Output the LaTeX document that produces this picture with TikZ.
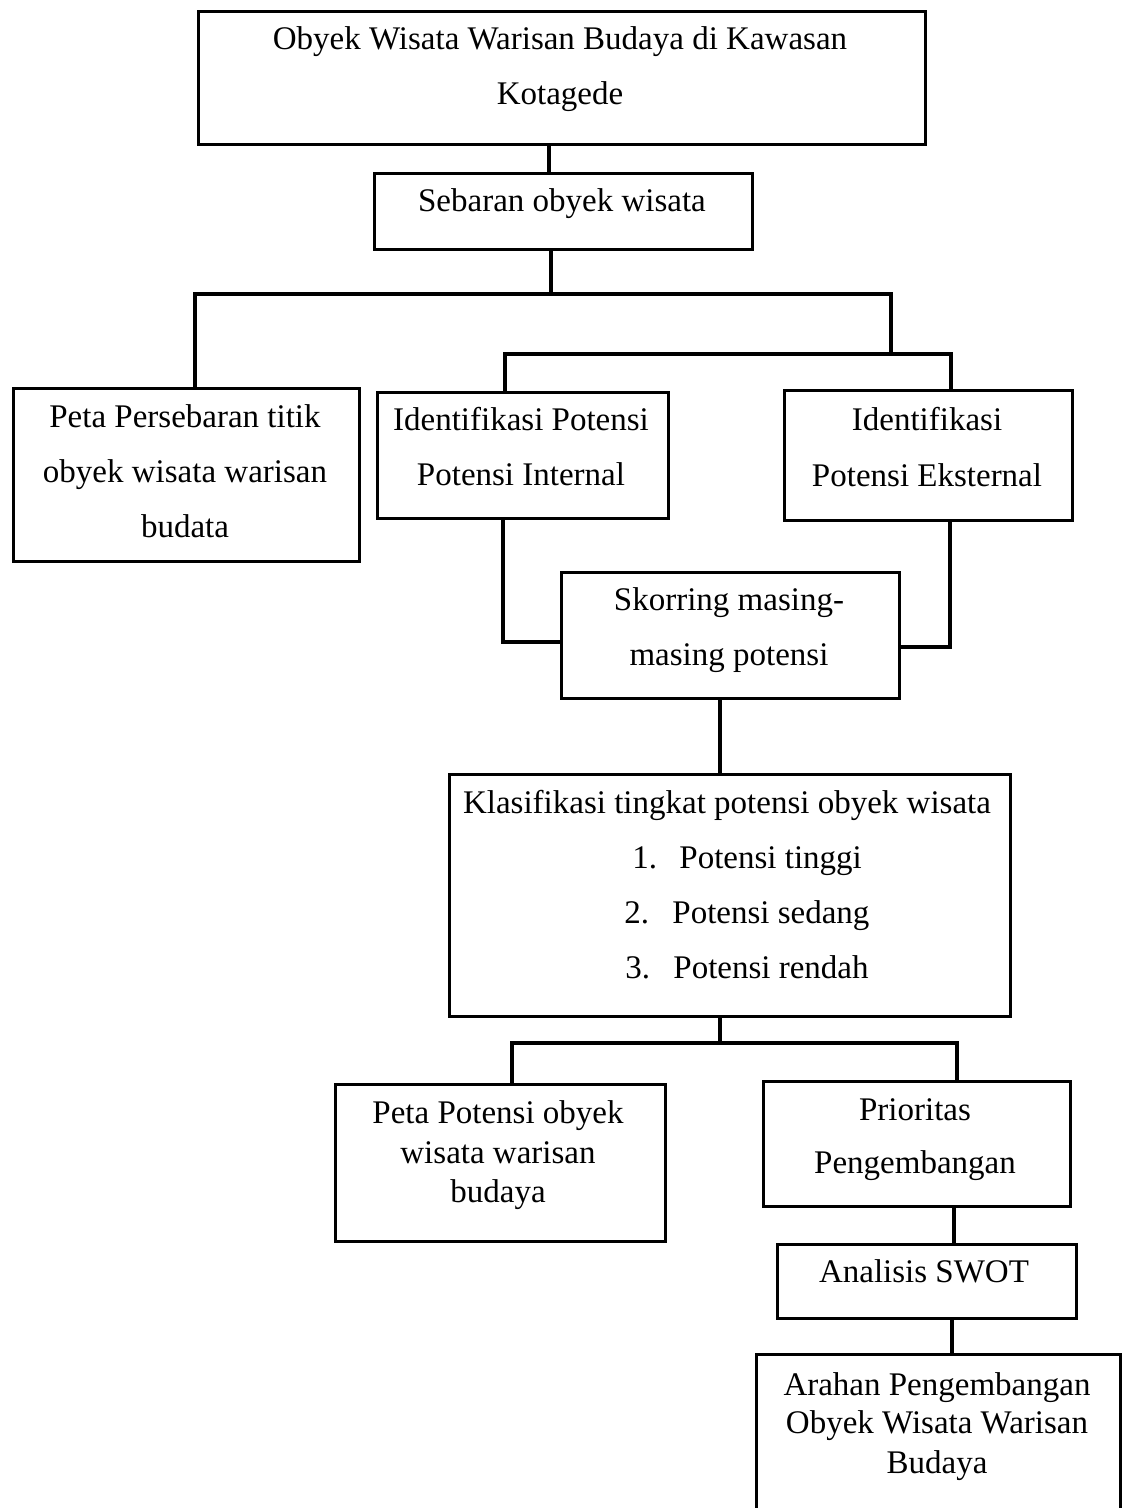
\documentclass[tikz,border=0pt]{standalone}
\usepackage{fontspec}
\setmainfont{Liberation Serif}
\newcommand\flowbox[5]{\node[box, minimum width={(#4-#2)*0.5pt}, minimum height={(#5-#3)*0.5pt}] (#1) at (#2,#3) {};}
\newcommand\boxline[4]{\node[lbl] (#1) at (#2,#3) {#4};}
\newcommand\boxlinew[4]{\node[lblw] (#1) at (#2,#3) {#4};}
\begin{document}
\begin{tikzpicture}[x=0.5pt, y=-0.5pt,
  box/.style={draw, line width=1.6pt, inner sep=0pt, anchor=north west},
  conn/.style={line width=1.8pt, line join=miter},
  bar/.style={line width=2.2pt, line join=miter},
  lbl/.style={anchor=base, inner sep=0pt, font=\fontsize{16.5}{20}\selectfont},
  lblw/.style={anchor=base west, inner sep=0pt, font=\fontsize{16.5}{20}\selectfont}]
\useasboundingbox (0,0) rectangle (1125,1508);
\clip (0,0) rectangle (1125,1508);
% boxes
\flowbox{A}{197}{10}{924}{143}
\flowbox{B}{373}{172}{751}{248}
\flowbox{C}{12}{387}{358}{560}
\flowbox{D}{376}{391}{667}{517}
\flowbox{E}{783}{389}{1071}{519}
\flowbox{F}{560}{571}{898}{697}
\flowbox{G}{448}{773}{1009}{1015}
\flowbox{H}{334}{1083}{664}{1240}
\flowbox{I}{762}{1080}{1069}{1205}
\flowbox{J}{776}{1243}{1075}{1317}
\flowbox{K}{755}{1353}{1119}{1540}
% texts
\boxline{A1}{560}{50}{Obyek Wisata Warisan Budaya di Kawasan}
\boxline{A2}{560}{105}{Kotagede}
\boxline{B1}{562}{212}{Sebaran obyek wisata}
\boxline{C1}{185}{427}{Peta Persebaran titik}
\boxline{C2}{185}{482}{obyek wisata warisan}
\boxline{C3}{185}{537}{budata}
\boxline{D1}{521}{430}{Identifikasi Potensi}
\boxline{D2}{521}{485}{Potensi Internal}
\boxline{E1}{927}{430}{Identifikasi}
\boxline{E2}{927}{486}{Potensi Eksternal}
\boxline{F1}{729}{610}{Skorring masing-}
\boxline{F2}{729}{665}{masing potensi}
\boxline{G1}{727}{813}{Klasifikasi tingkat potensi obyek wisata}
\boxlinew{G2n}{632}{868}{1.}
\boxlinew{G2}{679}{868}{Potensi tinggi}
\boxlinew{G3n}{624}{923}{2.}
\boxlinew{G3}{672}{923}{Potensi sedang}
\boxlinew{G4n}{625}{978}{3.}
\boxlinew{G4}{673}{978}{Potensi rendah}
\boxline{H1}{498}{1123}{Peta Potensi obyek}
\boxline{H2}{498}{1163}{wisata warisan}
\boxline{H3}{498}{1202}{budaya}
\boxline{I1}{915}{1120}{Prioritas}
\boxline{I2}{915}{1173}{Pengembangan}
\boxline{J1}{924}{1282}{Analisis SWOT}
\boxline{K1}{937}{1395}{Arahan Pengembangan}
\boxline{K2}{937}{1433}{Obyek Wisata Warisan}
\boxline{K3}{937}{1473}{Budaya}
% junction coordinates
\coordinate (xAB) at (549,0);
\coordinate (b1m) at (551,294);
\coordinate (b1l) at (195,294);
\coordinate (b1r) at (891,294);
\coordinate (b2l) at (505,354);
\coordinate (b2r) at (951,354);
\coordinate (kD) at (503,642);
\coordinate (kE) at (950,647);
\coordinate (xFG) at (720,0);
\coordinate (b3m) at (720,1043);
\coordinate (b3l) at (512,1043);
\coordinate (b3r) at (957,1043);
\coordinate (xIJ) at (954,0);
\coordinate (xJK) at (952,0);
% connectors
\draw[conn] (A.south -| xAB) -- (B.north -| xAB);
\draw[conn] (B.south -| b1m) -- (b1m);
\draw[bar] (C.north -| b1l) -- (b1l) -- (b1r) -- (b1r |- b2l);
\draw[bar] (D.north -| b2l) -- (b2l) -- (b2r) -- (E.north -| b2r);
\draw[conn] (D.south -| kD) -- (kD) -- (F.west |- kD);
\draw[conn] (E.south -| kE) -- (kE) -- (F.east |- kE);
\draw[conn] (F.south -| xFG) -- (G.north -| xFG);
\draw[conn] (G.south -| b3m) -- (b3m);
\draw[bar] (H.north -| b3l) -- (b3l) -- (b3r) -- (I.north -| b3r);
\draw[conn] (I.south -| xIJ) -- (J.north -| xIJ);
\draw[conn] (J.south -| xJK) -- (K.north -| xJK);
\end{tikzpicture}
\end{document}
